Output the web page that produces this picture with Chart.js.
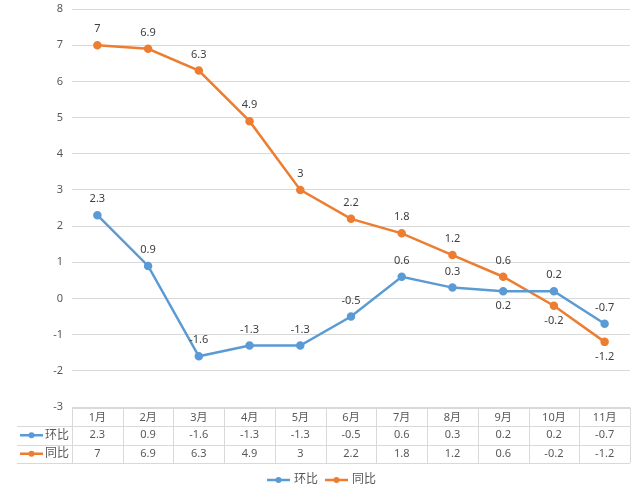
<!DOCTYPE html>
<html>
<head>
<meta charset="utf-8">
<script src="https://cdn.jsdelivr.net/npm/chart.js@4/dist/chart.umd.min.js"></script>
<style>
html, body { margin: 0; padding: 0; background: #fff; }
</style>
</head>
<body>
<canvas id="growthChart" width="640" height="493"></canvas>
<script>
// 数据
const months = ['1月', '2月', '3月', '4月', '5月', '6月', '7月', '8月', '9月', '10月', '11月'];
const huanbi = [2.3, 0.9, -1.6, -1.3, -1.3, -0.5, 0.6, 0.3, 0.2, 0.2, -0.7];   // 环比
const tongbi = [7, 6.9, 6.3, 4.9, 3, 2.2, 1.8, 1.2, 0.6, -0.2, -1.2];           // 同比
const seriesNames = ['环比', '同比'];
const yMin = -3;
const yMax = 8;

const BLUE = '#5B9BD5';
const ORANGE = '#ED7D31';
const FONT = "'Noto Sans', 'Noto Sans CJK SC', sans-serif";
const TEXT = '#595959';

// 标签放在点下方的位置
const belowLabels = [[8], [9, 10]];

const valueLabels = {
	id: 'valueLabels',
	afterDatasetsDraw(chart) {
		const ctx = chart.ctx;
		ctx.save();
		ctx.font = '11px ' + FONT;
		ctx.fillStyle = '#404040';
		ctx.textAlign = 'center';
		ctx.textBaseline = 'middle';
		chart.data.datasets.forEach((ds, di) => {
			chart.getDatasetMeta(di).data.forEach((pt, i) => {
				const below = belowLabels[di].includes(i);
				ctx.fillText(String(ds.data[i]), pt.x, pt.y + (below ? 15 : -16));
			});
		});
		ctx.restore();
	}
};

function drawKey(ctx, x, y, color) {
	ctx.strokeStyle = color;
	ctx.lineWidth = 2.5;
	ctx.beginPath();
	ctx.moveTo(x, y);
	ctx.lineTo(x + 23, y);
	ctx.stroke();
	ctx.fillStyle = color;
	ctx.beginPath();
	ctx.arc(x + 11.5, y, 3, 0, Math.PI * 2);
	ctx.fill();
}

// 数据表 + 图例
const dataTable = {
	id: 'dataTable',
	afterDraw(chart) {
		const ctx = chart.ctx;
		const area = chart.chartArea;
		const xs = chart.scales.x;
		const half = (xs.getPixelForValue(1) - xs.getPixelForValue(0)) / 2;
		const top = area.bottom + 0.5;
		const rowH = 18.5;
		const leftCol = 17;
		const colors = [BLUE, ORANGE];
		const rows = [huanbi, tongbi];

		ctx.save();
		ctx.strokeStyle = '#d9d9d9';
		ctx.lineWidth = 1;
		for (let r = 0; r <= 3; r++) {
			const y = Math.round(top + r * rowH) + 0.5;
			ctx.beginPath();
			ctx.moveTo(r === 0 ? area.left : leftCol, y);
			ctx.lineTo(area.right, y);
			ctx.stroke();
		}
		for (let i = 0; i <= months.length; i++) {
			const x = Math.round(xs.getPixelForValue(i) - half) + 0.5;
			ctx.beginPath();
			ctx.moveTo(x, top);
			ctx.lineTo(x, top + 3 * rowH);
			ctx.stroke();
		}

		ctx.font = '11px ' + FONT;
		ctx.fillStyle = TEXT;
		ctx.textAlign = 'center';
		ctx.textBaseline = 'middle';
		months.forEach((m, i) => {
			const x = xs.getPixelForValue(i);
			ctx.fillText(m, x, top + rowH * 0.5 + 1);
			ctx.fillText(String(huanbi[i]), x, top + rowH * 1.5);
			ctx.fillText(String(tongbi[i]), x, top + rowH * 2.5);
		});

		// 表内系列名
		ctx.textAlign = 'left';
		ctx.font = '12px ' + FONT;
		rows.forEach((row, r) => {
			const y = top + rowH * (r + 1.5);
			drawKey(ctx, 20, y, colors[r]);
			ctx.fillStyle = TEXT;
			ctx.fillText(seriesNames[r], 45, y);
		});

		// 底部图例
		const ly = 480;
		const legendX = [267, 325];
		seriesNames.forEach((name, r) => {
			drawKey(ctx, legendX[r], ly, colors[r]);
			ctx.fillStyle = TEXT;
			ctx.fillText(name, legendX[r] + 27, ly);
		});
		ctx.restore();
	}
};

new Chart(document.getElementById('growthChart'), {
	type: 'line',
	data: {
		labels: months,
		datasets: [
			{
				label: seriesNames[0],
				data: huanbi,
				borderColor: BLUE,
				backgroundColor: BLUE,
				borderWidth: 2.5,
				pointRadius: 3,
				pointHoverRadius: 3,
				tension: 0
			},
			{
				label: seriesNames[1],
				data: tongbi,
				borderColor: ORANGE,
				backgroundColor: ORANGE,
				borderWidth: 2.5,
				pointRadius: 3,
				pointHoverRadius: 3,
				tension: 0
			}
		]
	},
	options: {
		responsive: false,
		animation: false,
		layout: { padding: { top: 9, right: 10, bottom: 0, left: 0 } },
		plugins: {
			legend: { display: false },
			tooltip: { enabled: false }
		},
		scales: {
			x: {
				offset: true,
				grid: { display: false, drawTicks: false },
				border: { display: false },
				ticks: { display: false },
				afterFit: function(scale) { scale.height = 86; }
			},
			y: {
				min: yMin,
				max: yMax,
				border: { display: false },
				grid: { color: '#d9d9d9', lineWidth: 1, drawTicks: false },
				ticks: {
					stepSize: 1,
					padding: 9,
					color: TEXT,
					font: { size: 11, family: FONT }
				},
				afterFit: function(scale) {
					scale.width = 72;
					scale.paddingTop = 0;
					scale.paddingBottom = 0;
				}
			}
		}
	},
	plugins: [valueLabels, dataTable]
});
</script>
</body>
</html>
